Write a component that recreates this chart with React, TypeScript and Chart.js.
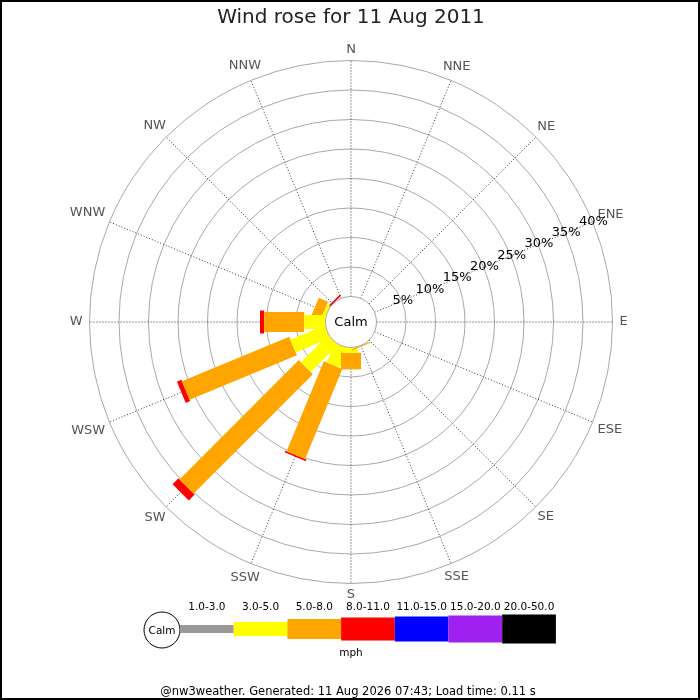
import { Chart, registerables } from "chart.js";
import { useEffect, useRef } from "react";

Chart.register(...registerables);

// compass points, clockwise from north
const directions = ["N", "NNE", "NE", "ENE", "E", "ESE", "SE", "SSE", "S", "SSW", "SW", "WSW", "W", "WNW", "NW", "NNW"];
const speedRanges = ["1.0-3.0", "3.0-5.0", "5.0-8.0", "8.0-11.0", "11.0-15.0", "15.0-20.0", "20.0-50.0"];
const ringTicks = [5, 10, 15, 20, 25, 30, 35, 40];

// % of the day per direction, one array per speed range (mph)
const range1 = [0, 0, 0, 0, 0, 0, 0, 0, 0, 0, 0, 0, 0, 0, 0, 0];
const range2 = [0, 0, 0, 0, 0, 0, 0, 0, 0.9, 3.6, 6.5, 6.3, 3.6, 0.6, 0, 0];
const range3 = [0, 0, 0, 0, 0, 0, 0, 0.2, 2.8, 16.5, 28.6, 19.7, 6.8, 1.7, 0, 0];
const range4 = [0, 0, 0, 0, 0, 0, 0, 0, 0, 0.3, 1.4, 0.8, 0.7, 0, 0.3, 0];
const range5 = [0, 0, 0, 0, 0, 0, 0, 0, 0, 0, 0, 0, 0, 0, 0, 0];
const range6 = [0, 0, 0, 0, 0, 0, 0, 0, 0, 0, 0, 0, 0, 0, 0, 0];
const range7 = [0, 0, 0, 0, 0, 0, 0, 0, 0, 0, 0, 0, 0, 0, 0, 0];

const series = [range1, range2, range3, range4, range5, range6, range7];
const rangeColors = ["#999999", "#ffff00", "#ffa500", "#ff0000", "#0000ff", "#a020f0", "#000000"];
const rangeWidths = [8, 14, 20, 23, 25, 27, 29];

const FONT = "'DejaVu Sans', sans-serif";
const K = 5.9; // px per percent
const CALM = 25.5 / K; // calm circle radius, in percent units
const CX = 351;
const CY = 322;
const PAD = { left: 56, right: 54, top: 0, bottom: 83 };
const TITLE_H = 30;

const rad = (i: number) => (i * 22.5 * Math.PI) / 180;

const buildDatasets = () => {
  const out: any[] = [];
  directions.forEach((_, i) => {
    const s = Math.sin(rad(i));
    const c = Math.cos(rad(i));
    let start = CALM;
    series.forEach((vals, b) => {
      const v = vals[i];
      if (!v) return;
      const end = start + v;
      out.push({
        data: [
          { x: start * s, y: start * c },
          { x: end * s, y: end * c },
        ],
        showLine: true,
        // tiny tension keeps chart.js off its fast path, which mangles very short segments
        tension: 0.0001,
        borderColor: rangeColors[b],
        borderWidth: rangeWidths[b],
        borderCapStyle: "butt",
        pointRadius: 0,
        clip: false,
      });
      start = end;
    });
  });
  return out;
};

const roseGrid = {
  id: "roseGrid",
  beforeDatasetsDraw(chart: any) {
    const { ctx, scales } = chart;
    const cx = scales.x.getPixelForValue(0);
    const cy = scales.y.getPixelForValue(0);
    const k = scales.x.getPixelForValue(1) - cx;
    const outer = (CALM + ringTicks[ringTicks.length - 1]) * k;
    ctx.save();
    ctx.strokeStyle = "#a8a8a8";
    ctx.lineWidth = 1;
    ringTicks.forEach((t) => {
      ctx.beginPath();
      ctx.arc(cx, cy, (CALM + t) * k, 0, Math.PI * 2);
      ctx.stroke();
    });
    ctx.setLineDash([1, 2]);
    ctx.strokeStyle = "#333";
    directions.forEach((_, i) => {
      const s = Math.sin(rad(i));
      const c = Math.cos(rad(i));
      ctx.beginPath();
      ctx.moveTo(cx + CALM * k * s, cy - CALM * k * c);
      ctx.lineTo(cx + outer * s, cy - outer * c);
      ctx.stroke();
    });
    ctx.setLineDash([]);
    ctx.font = `13px ${FONT}`;
    ctx.fillStyle = "#555";
    ctx.textAlign = "center";
    ctx.textBaseline = "middle";
    directions.forEach((d, i) => {
      const s = Math.sin(rad(i));
      const c = Math.cos(rad(i));
      const w = ctx.measureText(d).width;
      const r = outer + 11 + Math.max(0, w / 2 - 4) * Math.abs(s);
      ctx.fillText(d, cx + r * s, cy - r * c);
    });
    ctx.restore();
  },
  afterDatasetsDraw(chart: any) {
    const { ctx, scales } = chart;
    const cx = scales.x.getPixelForValue(0);
    const cy = scales.y.getPixelForValue(0);
    const k = scales.x.getPixelForValue(1) - cx;
    ctx.save();
    // calm circle
    ctx.beginPath();
    ctx.arc(cx, cy, CALM * k, 0, Math.PI * 2);
    ctx.fillStyle = "#fff";
    ctx.fill();
    ctx.strokeStyle = "#a8a8a8";
    ctx.lineWidth = 1;
    ctx.stroke();
    ctx.fillStyle = "#000";
    ctx.textAlign = "center";
    ctx.textBaseline = "middle";
    ctx.font = `13px ${FONT}`;
    ctx.fillText("Calm", cx, cy + 1);
    // ring labels along ENE
    const a = rad(3);
    ringTicks.forEach((t) => {
      const r = (CALM + t) * k + 1;
      ctx.fillText(`${t}%`, cx + r * Math.sin(a), cy - r * Math.cos(a));
    });
    // legend
    const ly = 629;
    ctx.beginPath();
    ctx.arc(162, 630, 18, 0, Math.PI * 2);
    ctx.fillStyle = "#fff";
    ctx.fill();
    ctx.strokeStyle = "#000";
    ctx.stroke();
    ctx.fillStyle = "#000";
    ctx.font = `10.5px ${FONT}`;
    ctx.fillText("Calm", 162, 631);
    const bw = 53.7;
    speedRanges.forEach((label, b) => {
      const x0 = 180 + b * bw;
      const h = rangeWidths[b];
      ctx.fillStyle = rangeColors[b];
      ctx.fillRect(x0, ly - h / 2, bw, h);
      ctx.fillStyle = "#000";
      ctx.fillText(label, x0 + bw / 2, 607);
    });
    ctx.fillText("mph", 351, 653);
    ctx.font = `11.5px ${FONT}`;
    ctx.fillText("@nw3weather. Generated: 11 Aug 2026 07:43; Load time: 0.11 s", 348, 692);
    // frame
    ctx.strokeStyle = "#000";
    ctx.lineWidth = 2;
    ctx.strokeRect(1, 1, chart.width - 2, chart.height - 2);
    ctx.restore();
  },
};

const WindRose: React.FC = () => {
  const chartRef = useRef<HTMLCanvasElement | null>(null);

  useEffect(() => {
    if (!chartRef.current) return;
    const ctx = chartRef.current.getContext("2d");
    if (!ctx) return;
    const myChart = new Chart(ctx, {
      type: "scatter",
      data: { datasets: buildDatasets() },
      options: {
        animation: false,
        responsive: true,
        maintainAspectRatio: false,
        events: [],
        layout: { padding: PAD },
        scales: {
          x: {
            display: false,
            min: -(CX - PAD.left) / K,
            max: (700 - PAD.right - CX) / K,
          },
          y: {
            display: false,
            min: -(700 - PAD.bottom - CY) / K,
            max: (CY - TITLE_H) / K,
          },
        },
        plugins: {
          legend: { display: false },
          tooltip: { enabled: false },
          title: {
            display: true,
            text: "Wind rose for 11 Aug 2011",
            color: "#222",
            font: { family: FONT, size: 20, weight: "normal", lineHeight: 1.2 },
            padding: { top: 6, bottom: 0 },
          },
        },
      },
      plugins: [roseGrid],
    } as any);
    return () => myChart.destroy();
  }, []);

  return (
    <div style={{ position: "fixed", left: 0, top: 0, width: "700px", height: "700px", background: "#fff" }}>
      <canvas ref={chartRef} />
    </div>
  );
};

export default function App() {
  return <WindRose />;
}
